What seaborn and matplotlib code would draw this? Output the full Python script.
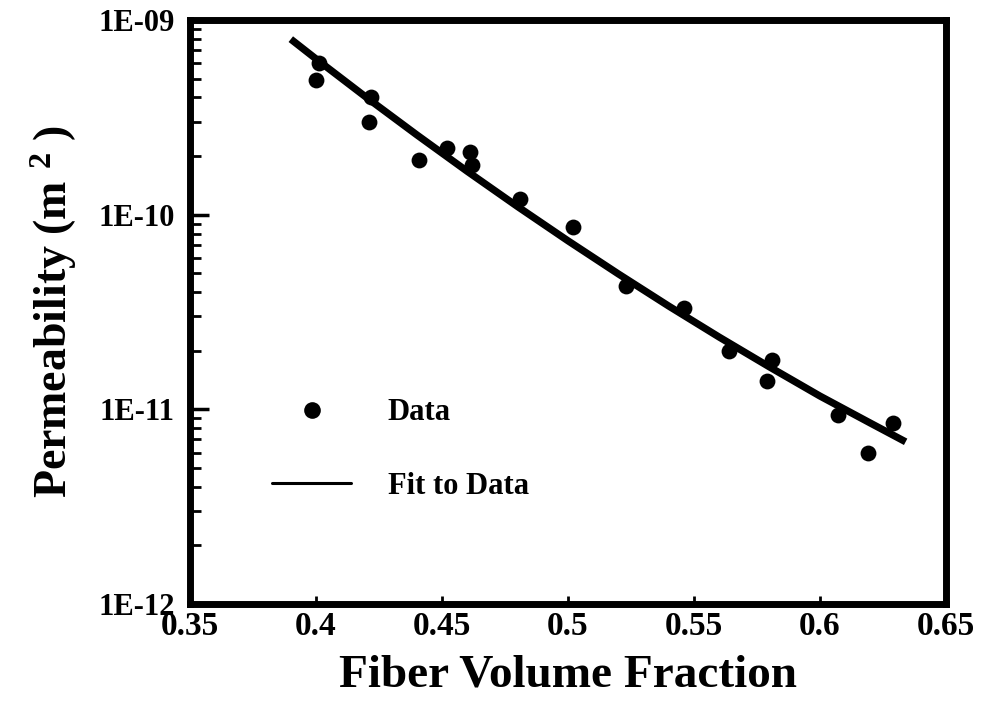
import matplotlib
matplotlib.use("Agg")
import matplotlib.pyplot as plt
from matplotlib.lines import Line2D
from matplotlib.ticker import LogLocator, NullFormatter
import pandas as pd
import seaborn as sns

# Measured permeability against fiber volume fraction
fiber_fraction = [0.401, 0.400, 0.422, 0.421, 0.441, 0.452, 0.461, 0.462, 0.481,
                  0.502, 0.523, 0.546, 0.564, 0.581, 0.579, 0.607, 0.629, 0.619]
permeability = [6.0e-10, 4.9e-10, 4.0e-10, 3.0e-10, 1.9e-10, 2.2e-10, 2.1e-10, 1.8e-10, 1.2e-10,
                8.6e-11, 4.3e-11, 3.3e-11, 2.0e-11, 1.8e-11, 1.4e-11, 9.3e-12, 8.5e-12, 6.0e-12]

# Fitted permeability curve
fit_fraction = [0.39, 0.40, 0.42, 0.44, 0.46, 0.48, 0.50, 0.52, 0.54, 0.56, 0.58, 0.60, 0.62, 0.634]
fit_permeability = [7.97e-10, 6.31e-10, 4.00e-10, 2.57e-10, 1.67e-10, 1.10e-10, 7.34e-11,
                    4.96e-11, 3.39e-11, 2.35e-11, 1.65e-11, 1.17e-11, 8.50e-12, 6.81e-12]

x_ticks = [0.35, 0.40, 0.45, 0.50, 0.55, 0.60, 0.65]
x_tick_labels = ["0.35", "0.4", "0.45", "0.5", "0.55", "0.6", "0.65"]
y_ticks = [1e-12, 1e-11, 1e-10, 1e-9]
y_tick_labels = ["1E-12", "1E-11", "1E-10", "1E-09"]

sns.set_theme(style="white")
plt.rcParams["font.family"] = ["Liberation Serif", "DejaVu Serif"]
plt.rcParams["font.weight"] = "bold"
plt.rcParams["mathtext.fontset"] = "custom"
plt.rcParams["mathtext.rm"] = "Liberation Serif:bold"
plt.rcParams["mathtext.default"] = "rm"
for key in ("text.color", "axes.labelcolor", "xtick.color", "ytick.color", "axes.edgecolor"):
    plt.rcParams[key] = "black"

data_df = pd.DataFrame({"fraction": fiber_fraction, "permeability": permeability})
fit_df = pd.DataFrame({"fraction": fit_fraction, "permeability": fit_permeability})

fig, ax = plt.subplots(figsize=(9.82, 7.03), dpi=100)
fig.subplots_adjust(left=0.1935, right=0.9633, bottom=0.1408, top=0.9716)

ax.set_yscale("log")
sns.lineplot(data=fit_df, x="fraction", y="permeability", ax=ax, color="black",
             linewidth=5.2, estimator=None, sort=True, solid_capstyle="butt", legend=False)
sns.scatterplot(data=data_df, x="fraction", y="permeability", ax=ax, color="black",
                s=130, linewidth=0, legend=False, zorder=3)

ax.set_xlim(0.35, 0.65)
ax.set_ylim(1e-12, 1e-9)

ax.set_xticks(x_ticks, labels=x_tick_labels)
ax.set_yticks(y_ticks, labels=y_tick_labels)
ax.yaxis.set_minor_locator(LogLocator(base=10, subs=range(2, 10)))
ax.yaxis.set_minor_formatter(NullFormatter())

ax.tick_params(axis="x", which="major", direction="in", length=6, width=2,
               labelsize=24, pad=5, bottom=True, top=False, colors="black")
ax.tick_params(axis="y", which="major", direction="in", length=14, width=2.5,
               labelsize=22, pad=11, left=True, right=False, colors="black")
ax.tick_params(axis="y", which="minor", direction="in", length=8, width=2,
               left=True, right=False, colors="black")
for lab in ax.get_xticklabels() + ax.get_yticklabels():
    lab.set_fontweight("bold")

for spine in ax.spines.values():
    spine.set_linewidth(5)
    spine.set_color("black")

ax.set_xlabel("Fiber Volume Fraction", fontsize=34, fontweight="bold", labelpad=9,
              color="black")
ax.set_ylabel("Permeability (m $^{2}$ )", fontsize=33, fontweight="bold", labelpad=14,
              color="black")

handles = [
    Line2D([], [], linestyle="none", marker="o", markersize=12, color="black",
           markeredgewidth=0),
    Line2D([], [], color="black", linewidth=2.2),
]
leg = ax.legend(handles, ["Data", "Fit to Data"], loc="upper left",
                bbox_to_anchor=(0.1085, 0.352), frameon=False, borderpad=0,
                borderaxespad=0, handlelength=2.6, handletextpad=1.18,
                labelspacing=1.45,
                prop={"family": "Liberation Serif", "weight": "bold", "size": 22})
for txt in leg.get_texts():
    txt.set_color("black")

fig.savefig("out.png", dpi=100, facecolor="white")
